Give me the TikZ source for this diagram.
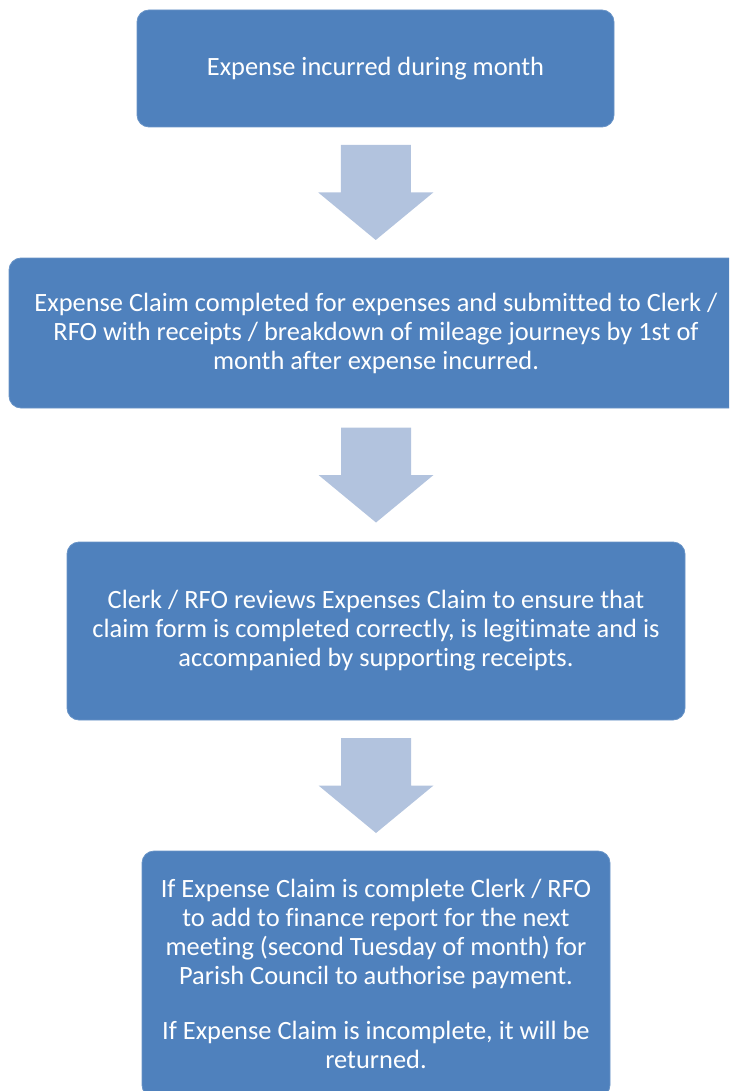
\documentclass[tikz,border=0pt]{standalone}
\usepackage{fontspec}
\setmainfont[Ligatures=NoCommon]{Carlito}
\usepackage{tikz}
\definecolor{boxBlue}{RGB}{79, 129, 189}
\definecolor{arrowBlue}{RGB}{178, 195, 222}

\begin{document}
\begin{tikzpicture}[x=1pt, y=-1pt,
    stepbox/.style={fill=boxBlue, draw=boxBlue!85!white, line width=0.8pt,
      rounded corners=12pt, align=center, text=white, inner sep=0pt,
      font=\fontsize{26.4}{29}\selectfont}]
      \useasboundingbox (0,0) rectangle (729,1091);
      \clip (0,0) rectangle (729,1091);
      % boxes, top to bottom
      \node[stepbox, minimum width=477, minimum height=117] (incurred) at (375.5,68.5)
        {Expense incurred during month};
      \node[stepbox, minimum width=734, minimum height=150] (claim) at (376,333)
        {Expense Claim completed for expenses and submitted to Clerk /\\
         RFO with receipts / breakdown of mileage journeys by 1st of\\
         month after expense incurred.};
      \node[stepbox, minimum width=618, minimum height=178] (review) at (376,631)
        {Clerk / RFO reviews Expenses Claim to ensure that\\
         claim form is completed correctly, is legitimate and is\\
         accompanied by supporting receipts.};
      \node[stepbox, minimum width=468, minimum height=246] (payment) at (376,974)
        {If Expense Claim is complete Clerk / RFO\\
         to add to finance report for the next\\
         meeting (second Tuesday of month) for\\
         Parish Council to authorise payment.\\[26pt]
         If Expense Claim is incomplete, it will be\\
         returned.};
      % block arrows between the boxes
      \path (incurred.south) -- (claim.north) coordinate[midway] (a1);
      \path (claim.south) -- (review.north) coordinate[midway] (a2);
      \path (review.south) -- (payment.north) coordinate[midway] (a3);
      \foreach \a in {a1,a2,a3}
        \fill[arrowBlue, shift={(\a)}] (-35,-47.5) -- (35,-47.5) -- (35,0) -- (57.5,0)
          -- (0,47.5) -- (-57.5,0) -- (-35,0) -- cycle;
    \end{tikzpicture}
\end{document}
